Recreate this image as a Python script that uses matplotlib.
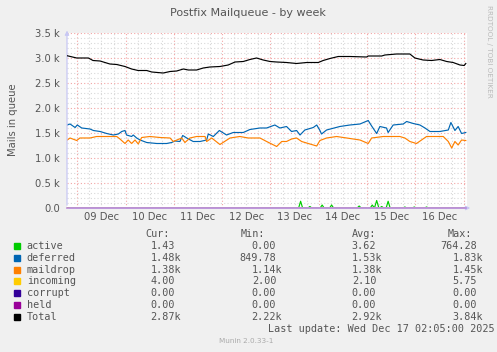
#! /usr/bin/env python
import matplotlib
matplotlib.use("Agg")
import matplotlib.pyplot as plt

# hours since 08 Dec 00:00
total_h = [19.0, 23.7, 29.5, 31.8, 35.3, 40.2, 43.6, 47.7, 51.0, 54.2, 58.5, 61.0, 66.7, 70.1,
           73.4, 76.7, 79.2, 83.3, 86.6, 89.9, 94.9, 99.0, 102.4, 106.5, 109.8, 113.1, 116.4,
           119.8, 123.1, 128.0, 133.0, 138.0, 143.8, 146.2, 149.6, 153.7, 159.5, 167.8, 168.6,
           175.3, 176.9, 182.7, 189.3, 191.8, 195.9, 200.1, 204.2, 207.6, 210.8, 214.2, 216.3, 217.1]
total_v = [3.045, 3.00, 3.00, 2.95, 2.94, 2.88, 2.87, 2.83, 2.78, 2.75, 2.75, 2.72, 2.70, 2.73,
           2.74, 2.78, 2.76, 2.76, 2.80, 2.82, 2.83, 2.86, 2.92, 2.93, 2.97, 3.00, 2.96,
           2.93, 2.92, 2.91, 2.89, 2.91, 2.91, 2.95, 2.99, 3.03, 3.03, 3.02, 3.04,
           3.04, 3.06, 3.08, 3.08, 3.00, 2.96, 2.95, 2.97, 2.93, 2.91, 2.86, 2.85, 2.89]

deferred_h = [19.0, 20.4, 22.9, 24.0, 26.2, 30.3, 32.0, 35.3, 38.6, 41.9, 44.4, 46.1, 47.7, 48.5,
              51.0, 51.8, 53.5, 55.2, 58.5, 63.5, 68.4, 70.9, 72.5, 75.0, 76.4, 78.4, 81.6, 85.0,
              88.3, 89.1, 91.6, 94.6, 98.2, 101.5, 106.5, 109.8, 114.8, 118.1, 122.2, 124.7,
              128.0, 130.5, 133.0, 134.7, 137.1, 141.3, 143.0, 144.6, 145.4, 147.9, 154.5, 159.5,
              164.5, 168.6, 170.3, 172.8, 174.4, 177.7, 178.5, 181.0, 186.0, 187.7, 191.0, 194.3,
              196.8, 199.3, 204.2, 208.4, 209.7, 211.7, 213.3, 215.0, 217.1]
deferred_v = [1.66, 1.68, 1.61, 1.66, 1.60, 1.58, 1.55, 1.53, 1.49, 1.46, 1.48, 1.53, 1.55, 1.46,
              1.43, 1.46, 1.40, 1.36, 1.31, 1.29, 1.29, 1.31, 1.34, 1.33, 1.45, 1.40, 1.33, 1.33,
              1.36, 1.48, 1.43, 1.55, 1.46, 1.51, 1.51, 1.57, 1.60, 1.60, 1.66, 1.60,
              1.63, 1.53, 1.55, 1.46, 1.56, 1.61, 1.66, 1.55, 1.48, 1.56, 1.63, 1.66,
              1.68, 1.75, 1.64, 1.49, 1.63, 1.60, 1.51, 1.66, 1.68, 1.73, 1.69, 1.66,
              1.60, 1.53, 1.53, 1.56, 1.71, 1.55, 1.63, 1.49, 1.51]

maildrop_h = [19.0, 20.4, 23.7, 25.3, 30.3, 33.6, 43.6, 45.2, 47.7, 49.3, 51.0, 52.7, 54.3, 56.0,
              60.1, 65.1, 70.1, 71.7, 75.9, 77.5, 80.0, 83.3, 87.5, 88.3, 90.8, 94.9, 99.9, 104.8,
              109.0, 114.8, 118.1, 123.1, 125.6, 128.0, 130.5, 133.0, 135.5, 138.8, 143.0, 144.6,
              147.9, 152.9, 157.9, 164.5, 168.6, 170.3, 176.1, 184.3, 186.8, 189.3, 192.6, 197.6,
              205.9, 208.4, 210.1, 211.7, 213.3, 215.0, 217.1]
maildrop_v = [1.36, 1.40, 1.35, 1.40, 1.40, 1.43, 1.43, 1.38, 1.29, 1.36, 1.29, 1.36, 1.28, 1.41,
              1.43, 1.41, 1.40, 1.33, 1.40, 1.31, 1.40, 1.43, 1.43, 1.33, 1.40, 1.27, 1.40, 1.43,
              1.40, 1.40, 1.33, 1.23, 1.33, 1.33, 1.38, 1.40, 1.33, 1.29, 1.24, 1.35,
              1.40, 1.43, 1.40, 1.36, 1.29, 1.40, 1.43, 1.43, 1.40, 1.33, 1.29, 1.43,
              1.43, 1.33, 1.20, 1.33, 1.26, 1.36, 1.35]

active_h = [19.0, 134.0, 135.0, 136.0, 138.6, 139.6, 140.6, 144.7, 145.7, 146.7, 149.4, 150.4,
            151.4, 163.1, 164.1, 165.1, 169.6, 170.6, 171.7, 172.8, 173.9, 174.3, 175.3, 176.3,
            177.5, 178.5, 179.5, 185.8, 186.8, 187.8, 190.5, 191.5, 192.5, 196.6, 197.6, 198.6, 217.1]
active_v = [0, 0, 135, 0, 0, 30, 0, 0, 60, 0, 0, 60,
            0, 0, 40, 0, 0, 60, 0, 150, 0, 0, 30, 0,
            0, 135, 0, 0, 20, 0, 0, 20, 0, 0, 20, 0, 0]

flat_h = [19.0, 217.1]
incoming_v = [2.0, 4.0]
corrupt_v = [0.0, 0.0]
held_v = [0.0, 0.0]

day_labels = ["09 Dec", "10 Dec", "11 Dec", "12 Dec", "13 Dec", "14 Dec", "15 Dec", "16 Dec"]
ytick_vals = [0, 500, 1000, 1500, 2000, 2500, 3000, 3500]
ytick_labels = ["0.0", "0.5 k", "1.0 k", "1.5 k", "2.0 k", "2.5 k", "3.0 k", "3.5 k"]

names = ["active", "deferred", "maildrop", "incoming", "corrupt", "held", "Total"]
colors = ["#00CC00", "#0066B3", "#FF8000", "#FFCC00", "#330099", "#990099", "#000000"]
cur = ["1.43", "1.48k", "1.38k", "4.00", "0.00", "0.00", "2.87k"]
vmin = ["0.00", "849.78", "1.14k", "2.00", "0.00", "0.00", "2.22k"]
vavg = ["3.62", "1.53k", "1.38k", "2.10", "0.00", "0.00", "2.92k"]
vmax = ["764.28", "1.83k", "1.45k", "5.75", "0.00", "0.00", "3.84k"]

W, H = 497, 352
X0, X1 = 18.88, 217.7


def fx(px):
    return px / W


def fy(py):
    return 1 - py / H


fig = plt.figure(figsize=(W / 100, H / 100), dpi=100, facecolor="#F0F0F0")
ax = fig.add_axes([fx(67), fy(208), 400 / W, 175 / H])
ax.set_facecolor("white")
ax.set_xlim(X0, X1)
ax.set_ylim(0, 3500)
for s in ax.spines.values():
    s.set_visible(False)

# grid
for h in range(24, 222, 6):
    major = h % 24 == 0
    ax.axvline(h, color="#F2A5A5" if major else "#D8D8D8", lw=0.8,
               ls=(0, (1, 2)), zorder=0)
for v in range(100, 3600, 100):
    major = v % 500 == 0
    ax.axhline(v, color="#F2A5A5" if major else "#D8D8D8", lw=0.8,
               ls=(0, (1, 2)), zorder=0)

ax.set_xticks([24 * (i + 1) + 12 for i in range(len(day_labels))], day_labels)
ax.set_yticks(ytick_vals, ytick_labels)
ax.tick_params(length=0, labelsize=7.2, colors="#555555")
ax.tick_params(axis="x", pad=3)
ax.tick_params(axis="y", pad=5)

lw = 0.85
ax.plot(active_h, active_v, color=colors[0], lw=lw, zorder=3)
ax.plot(deferred_h, [v * 1000 for v in deferred_v], color=colors[1], lw=lw, zorder=3)
ax.plot(maildrop_h, [v * 1000 for v in maildrop_v], color=colors[2], lw=lw, zorder=3)
ax.plot(flat_h, incoming_v, color=colors[3], lw=lw, zorder=3)
ax.plot(flat_h, corrupt_v, color=colors[4], lw=lw, zorder=3)
ax.plot(flat_h, held_v, color="#B98AD8", lw=1.2, zorder=4, clip_on=False)
ax.plot(total_h, [v * 1000 for v in total_v], color=colors[6], lw=lw, zorder=5)

# axis arrows
axis_col = "#C8C8F4"
ax.annotate("", xy=(0, 1.03), xytext=(0, 0), xycoords="axes fraction",
            arrowprops=dict(arrowstyle="-|>", color=axis_col, lw=0.9, mutation_scale=6))
ax.annotate("", xy=(1.015, 0), xytext=(0, 0), xycoords="axes fraction",
            arrowprops=dict(arrowstyle="-|>", color=axis_col, lw=0.9, mutation_scale=6))

fig.text(fx(248), fy(13), "Postfix Mailqueue - by week", ha="center", va="center",
         fontsize=8, color="#555555")
fig.text(fx(13), fy(120), "Mails in queue", ha="center", va="center", rotation=90,
         fontsize=7.2, color="#555555")
fig.text(fx(489), fy(5), "RRDTOOL / TOBI OETIKER", ha="center", va="top", rotation=270,
         fontsize=5.2, color="#BBBBBB")
fig.text(fx(246), fy(341), "Munin 2.0.33-1", ha="center", va="center",
         fontsize=5.2, color="#AAAAAA")

# legend
mono = dict(family="DejaVu Sans Mono", fontsize=7.3, color="#555555", va="center")
cw = 6.1
fig.text(fx(145.7), fy(234), "Cur:", **mono)
fig.text(fx(240.7), fy(234), "Min:", **mono)
fig.text(fx(351.7), fy(234), "Avg:", **mono)
fig.text(fx(447.7), fy(234), "Max:", **mono)
col_end = [181.0, 282.3, 382.3, 483.3]
for i, name in enumerate(names):
    y = 245.7 + i * 11.93
    fig.patches.append(plt.Rectangle((fx(14), fy(y + 3)), 6 / W, 6 / H,
                                     transform=fig.transFigure, color=colors[i]))
    fig.text(fx(26.7), fy(y), name, **mono)
    for j, vals in enumerate([cur, vmin, vavg, vmax]):
        s = vals[i]
        xe = col_end[j] if s.endswith("k") else col_end[j] - cw
        fig.text(fx(xe), fy(y), s, ha="right", **mono)
fig.text(fx(495), fy(329), "Last update: Wed Dec 17 02:05:00 2025", ha="right", **mono)

fig.savefig("out.png", dpi=100, facecolor=fig.get_facecolor())
